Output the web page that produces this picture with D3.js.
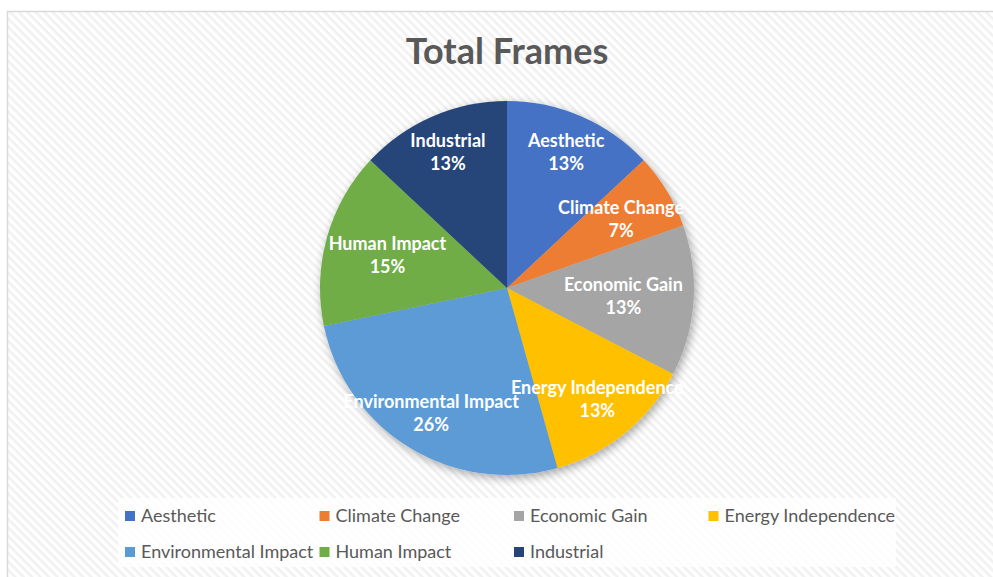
<!DOCTYPE html>
<html>
<head>
<meta charset="utf-8">
<script src="https://cdn.jsdelivr.net/npm/d3@7"></script>
<style>
  html, body { margin: 0; padding: 0; background: #ffffff; }
  svg { display: block; }
</style>
</head>
<body>
<svg id="chart" width="993" height="577"></svg>
<script>
// Frame counts per category
const categories = ["Aesthetic", "Climate Change", "Economic Gain", "Energy Independence",
                    "Environmental Impact", "Human Impact", "Industrial"];
const counts = [6, 3, 6, 6, 12, 7, 6];
const colors = ["#4472C4", "#ED7D31", "#A5A5A5", "#FFC000", "#5B9BD5", "#70AD47", "#264478"];
const chartTitle = "Total Frames";

const W = 993, H = 577;
const svg = d3.select("#chart");
const defs = svg.append("defs");

// Diagonal hatch used for the chart area background
const hatch = defs.append("pattern")
  .attr("id", "hatch")
  .attr("patternUnits", "userSpaceOnUse")
  .attr("width", 6).attr("height", 6)
  .attr("patternTransform", "rotate(45)");
hatch.append("rect").attr("width", 6).attr("height", 6).attr("fill", "#ffffff");
hatch.append("rect").attr("width", 6).attr("height", 2.6).attr("fill", "#f1f1f1");

// Soft shadow under the pie
const shadow = defs.append("filter").attr("id", "pieShadow")
  .attr("x", "-20%").attr("y", "-20%").attr("width", "140%").attr("height", "140%");
shadow.append("feDropShadow")
  .attr("dx", 2).attr("dy", 3).attr("stdDeviation", 5)
  .attr("flood-color", "#000").attr("flood-opacity", 0.35);

// Chart area
svg.append("rect")
  .attr("x", 7.5).attr("y", 11.5).attr("width", W + 20).attr("height", H + 20)
  .attr("fill", "url(#hatch)")
  .attr("stroke", "#d9d9d9").attr("stroke-width", 1.5);

// Title
svg.append("text")
  .attr("x", 507).attr("y", 64)
  .attr("text-anchor", "middle")
  .attr("font-family", "Lato, 'Open Sans', sans-serif")
  .attr("font-weight", "bold")
  .attr("font-size", 36)
  .attr("fill", "#595959")
  .text(chartTitle);

// Pie
const cx = 507, cy = 288, R = 187;
const total = d3.sum(counts);
const pie = d3.pie().sort(null).value(d => d.value);
const arcs = pie(categories.map((c, i) => ({ name: c, value: counts[i], color: colors[i] })));
const arc = d3.arc().innerRadius(0).outerRadius(R);

const g = svg.append("g").attr("transform", `translate(${cx},${cy})`);
g.append("g").attr("filter", "url(#pieShadow)")
  .selectAll("path")
  .data(arcs)
  .join("path")
  .attr("d", arc)
  .attr("fill", d => d.data.color);

// Data labels: wide labels sit further in where the slice points sideways
const labels = g.selectAll("text.lbl")
  .data(arcs)
  .join("text")
  .attr("class", "lbl")
  .attr("font-family", "Lato, 'Open Sans', sans-serif")
  .attr("font-weight", "bold")
  .attr("font-size", 18)
  .attr("fill", "#ffffff")
  .attr("text-anchor", "middle")
  .attr("transform", d => {
    const a = (d.startAngle + d.endAngle) / 2;
    const k = 0.61 + 0.2 * Math.abs(Math.cos(a));
    const r = R * k;
    return `translate(${r * Math.sin(a)},${-r * Math.cos(a)})`;
  });
labels.append("tspan").attr("x", 0).attr("y", -5).text(d => d.data.name);
labels.append("tspan").attr("x", 0).attr("y", 18.5)
  .text(d => d3.format(".0%")(d.data.value / total));

// Legend
const legend = svg.append("g");
legend.append("rect")
  .attr("x", 118).attr("y", 498).attr("width", 778).attr("height", 69)
  .attr("fill", "#ffffff").attr("fill-opacity", 0.8);

const colX = [125, 319.5, 514, 708.5];
const rowY = [516, 552];
const items = legend.selectAll("g.item")
  .data(categories.map((c, i) => ({ name: c, color: colors[i], i })))
  .join("g")
  .attr("class", "item")
  .attr("transform", d => `translate(${colX[d.i % 4]},${rowY[Math.floor(d.i / 4)]})`);
items.append("rect")
  .attr("x", 0).attr("y", -5).attr("width", 10).attr("height", 10)
  .attr("fill", d => d.color);
items.append("text")
  .attr("x", 16).attr("y", 0).attr("dy", "0.35em")
  .attr("font-family", "Lato, 'Open Sans', sans-serif")
  .attr("font-size", 18)
  .attr("fill", "#595959")
  .text(d => d.name);
</script>
</body>
</html>
